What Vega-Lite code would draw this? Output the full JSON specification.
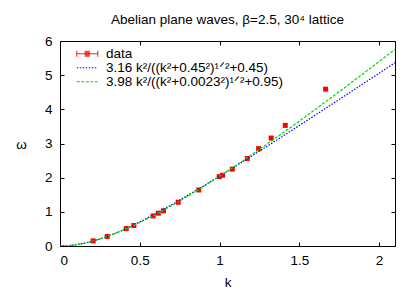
{
  "$schema": "https://vega.github.io/schema/vega-lite/v6.json",
  "width": 335,
  "height": 205,
  "autosize": {"type": "none"},
  "padding": {"left": 60, "top": 41, "right": 20, "bottom": 45},
  "background": "white",
  "config": {
    "font": "Liberation Sans",
    "view": {"stroke": "black", "strokeWidth": 1},
    "axis": {
      "domain": false,
      "grid": false,
      "tickColor": "black",
      "tickSize": -4,
      "tickWidth": 1,
      "labelFont": "Liberation Sans",
      "labelFontSize": 13.5,
      "labelColor": "black",
      "titleFont": "Liberation Sans",
      "titleFontSize": 13.5,
      "titleFontWeight": "normal",
      "titleColor": "black"
    }
  },
  "title": {
    "text": "Abelian plane waves, β=2.5, 30⁴ lattice",
    "font": "Liberation Sans",
    "fontSize": 13.5,
    "fontWeight": "normal",
    "color": "black",
    "anchor": "middle",
    "baseline": "alphabetic",
    "offset": -3
  },
  "datasets": {
    "pts": [
      {"k": 0.208, "w": 0.15, "s": "data"},
      {"k": 0.296, "w": 0.28, "s": "data"},
      {"k": 0.415, "w": 0.51, "s": "data"},
      {"k": 0.463, "w": 0.60, "s": "data"},
      {"k": 0.584, "w": 0.88, "s": "data"},
      {"k": 0.616, "w": 0.96, "s": "data"},
      {"k": 0.649, "w": 1.03, "s": "data"},
      {"k": 0.741, "w": 1.28, "s": "data"},
      {"k": 0.870, "w": 1.64, "s": "data"},
      {"k": 0.998, "w": 2.03, "s": "data"},
      {"k": 1.019, "w": 2.07, "s": "data"},
      {"k": 1.080, "w": 2.25, "s": "data"},
      {"k": 1.174, "w": 2.56, "s": "data"},
      {"k": 1.245, "w": 2.85, "s": "data"},
      {"k": 1.324, "w": 3.16, "s": "data"},
      {"k": 1.412, "w": 3.53, "s": "data"},
      {"k": 1.665, "w": 4.59, "s": "data"}
    ],
    "curves": [
      {"k": 0, "w": 0, "s": "3.16 k²/((k²+0.45²)¹ᐟ²+0.45)"},
      {"k": 0.05, "w": 0.00875, "s": "3.16 k²/((k²+0.45²)¹ᐟ²+0.45)"},
      {"k": 0.1, "w": 0.0347, "s": "3.16 k²/((k²+0.45²)¹ᐟ²+0.45)"},
      {"k": 0.15, "w": 0.0769, "s": "3.16 k²/((k²+0.45²)¹ᐟ²+0.45)"},
      {"k": 0.2, "w": 0.1341, "s": "3.16 k²/((k²+0.45²)¹ᐟ²+0.45)"},
      {"k": 0.25, "w": 0.2047, "s": "3.16 k²/((k²+0.45²)¹ᐟ²+0.45)"},
      {"k": 0.3, "w": 0.2870, "s": "3.16 k²/((k²+0.45²)¹ᐟ²+0.45)"},
      {"k": 0.35, "w": 0.3795, "s": "3.16 k²/((k²+0.45²)¹ᐟ²+0.45)"},
      {"k": 0.4, "w": 0.4806, "s": "3.16 k²/((k²+0.45²)¹ᐟ²+0.45)"},
      {"k": 0.45, "w": 0.5890, "s": "3.16 k²/((k²+0.45²)¹ᐟ²+0.45)"},
      {"k": 0.5, "w": 0.7037, "s": "3.16 k²/((k²+0.45²)¹ᐟ²+0.45)"},
      {"k": 0.6, "w": 0.9480, "s": "3.16 k²/((k²+0.45²)¹ᐟ²+0.45)"},
      {"k": 0.7, "w": 1.2076, "s": "3.16 k²/((k²+0.45²)¹ᐟ²+0.45)"},
      {"k": 0.8, "w": 1.4785, "s": "3.16 k²/((k²+0.45²)¹ᐟ²+0.45)"},
      {"k": 0.9, "w": 1.7577, "s": "3.16 k²/((k²+0.45²)¹ᐟ²+0.45)"},
      {"k": 1.0, "w": 2.0432, "s": "3.16 k²/((k²+0.45²)¹ᐟ²+0.45)"},
      {"k": 1.1, "w": 2.3336, "s": "3.16 k²/((k²+0.45²)¹ᐟ²+0.45)"},
      {"k": 1.2, "w": 2.6279, "s": "3.16 k²/((k²+0.45²)¹ᐟ²+0.45)"},
      {"k": 1.3, "w": 2.9252, "s": "3.16 k²/((k²+0.45²)¹ᐟ²+0.45)"},
      {"k": 1.4, "w": 3.2249, "s": "3.16 k²/((k²+0.45²)¹ᐟ²+0.45)"},
      {"k": 1.5, "w": 3.5267, "s": "3.16 k²/((k²+0.45²)¹ᐟ²+0.45)"},
      {"k": 1.6, "w": 3.8302, "s": "3.16 k²/((k²+0.45²)¹ᐟ²+0.45)"},
      {"k": 1.7, "w": 4.1350, "s": "3.16 k²/((k²+0.45²)¹ᐟ²+0.45)"},
      {"k": 1.8, "w": 4.4411, "s": "3.16 k²/((k²+0.45²)¹ᐟ²+0.45)"},
      {"k": 1.9, "w": 4.7481, "s": "3.16 k²/((k²+0.45²)¹ᐟ²+0.45)"},
      {"k": 2.0, "w": 5.0560, "s": "3.16 k²/((k²+0.45²)¹ᐟ²+0.45)"},
      {"k": 2.1, "w": 5.3647, "s": "3.16 k²/((k²+0.45²)¹ᐟ²+0.45)"},
      {"k": 0, "w": 0, "s": "3.98 k²/((k²+0.0023²)¹ᐟ²+0.95)"},
      {"k": 0.05, "w": 0.0100, "s": "3.98 k²/((k²+0.0023²)¹ᐟ²+0.95)"},
      {"k": 0.1, "w": 0.0379, "s": "3.98 k²/((k²+0.0023²)¹ᐟ²+0.95)"},
      {"k": 0.15, "w": 0.0814, "s": "3.98 k²/((k²+0.0023²)¹ᐟ²+0.95)"},
      {"k": 0.2, "w": 0.1384, "s": "3.98 k²/((k²+0.0023²)¹ᐟ²+0.95)"},
      {"k": 0.25, "w": 0.2073, "s": "3.98 k²/((k²+0.0023²)¹ᐟ²+0.95)"},
      {"k": 0.3, "w": 0.2866, "s": "3.98 k²/((k²+0.0023²)¹ᐟ²+0.95)"},
      {"k": 0.35, "w": 0.3750, "s": "3.98 k²/((k²+0.0023²)¹ᐟ²+0.95)"},
      {"k": 0.4, "w": 0.4717, "s": "3.98 k²/((k²+0.0023²)¹ᐟ²+0.95)"},
      {"k": 0.45, "w": 0.5757, "s": "3.98 k²/((k²+0.0023²)¹ᐟ²+0.95)"},
      {"k": 0.5, "w": 0.6862, "s": "3.98 k²/((k²+0.0023²)¹ᐟ²+0.95)"},
      {"k": 0.6, "w": 0.9244, "s": "3.98 k²/((k²+0.0023²)¹ᐟ²+0.95)"},
      {"k": 0.7, "w": 1.1819, "s": "3.98 k²/((k²+0.0023²)¹ᐟ²+0.95)"},
      {"k": 0.8, "w": 1.4555, "s": "3.98 k²/((k²+0.0023²)¹ᐟ²+0.95)"},
      {"k": 0.9, "w": 1.7426, "s": "3.98 k²/((k²+0.0023²)¹ᐟ²+0.95)"},
      {"k": 1.0, "w": 2.0410, "s": "3.98 k²/((k²+0.0023²)¹ᐟ²+0.95)"},
      {"k": 1.1, "w": 2.3492, "s": "3.98 k²/((k²+0.0023²)¹ᐟ²+0.95)"},
      {"k": 1.2, "w": 2.6657, "s": "3.98 k²/((k²+0.0023²)¹ᐟ²+0.95)"},
      {"k": 1.3, "w": 2.9894, "s": "3.98 k²/((k²+0.0023²)¹ᐟ²+0.95)"},
      {"k": 1.4, "w": 3.3195, "s": "3.98 k²/((k²+0.0023²)¹ᐟ²+0.95)"},
      {"k": 1.5, "w": 3.6551, "s": "3.98 k²/((k²+0.0023²)¹ᐟ²+0.95)"},
      {"k": 1.6, "w": 3.9956, "s": "3.98 k²/((k²+0.0023²)¹ᐟ²+0.95)"},
      {"k": 1.7, "w": 4.3405, "s": "3.98 k²/((k²+0.0023²)¹ᐟ²+0.95)"},
      {"k": 1.8, "w": 4.6892, "s": "3.98 k²/((k²+0.0023²)¹ᐟ²+0.95)"},
      {"k": 1.9, "w": 5.0413, "s": "3.98 k²/((k²+0.0023²)¹ᐟ²+0.95)"},
      {"k": 2.0, "w": 5.3966, "s": "3.98 k²/((k²+0.0023²)¹ᐟ²+0.95)"},
      {"k": 2.1, "w": 5.7547, "s": "3.98 k²/((k²+0.0023²)¹ᐟ²+0.95)"}
    ]
  },
  "layer": [
    {
      "data": {"name": "pts"},
      "mark": {"type": "point", "filled": false, "opacity": 0, "strokeWidth": 1},
      "encoding": {
        "x": {"field": "k", "type": "quantitative", "axis": null},
        "y": {"field": "w", "type": "quantitative", "axis": null},
        "color": {
          "field": "s", "type": "nominal",
          "scale": {
            "domain": ["data", "3.16 k²/((k²+0.45²)¹ᐟ²+0.45)", "3.98 k²/((k²+0.0023²)¹ᐟ²+0.95)"],
            "range": ["#ff0000", "#0000ff", "#00dd00"]
          },
          "legend": {
            "title": null,
            "orient": "none",
            "legendX": 20.5,
            "legendY": 6,
            "padding": 0,
            "symbolSize": 121,
            "symbolStrokeWidth": 1,
            "symbolOpacity": 1,
            "labelOffset": 12,
            "labelFont": "Liberation Sans",
            "labelFontSize": 13.5,
            "labelColor": "black",
            "labelLimit": 400,
            "rowPadding": -5
          }
        },
        "shape": {
          "field": "s", "type": "nominal",
          "scale": {
            "domain": ["data", "3.16 k²/((k²+0.45²)¹ᐟ²+0.45)", "3.98 k²/((k²+0.0023²)¹ᐟ²+0.95)"],
            "range": [
              "M-1.909,-0.55V0.55M-1.909,0H1.909M1.909,-0.55V0.55M-0.47,-0.45H0.47M-0.47,-0.27H0.47M-0.47,-0.09H0.47M-0.47,0.09H0.47M-0.47,0.27H0.47M-0.47,0.45H0.47",
              "M-1.909,0H1.909",
              "M-1.909,0H1.909"
            ]
          },
          "legend": {
            "title": null,
            "orient": "none",
            "legendX": 20.5,
            "legendY": 6,
            "padding": 0,
            "symbolSize": 121,
            "symbolStrokeWidth": 1,
            "symbolOpacity": 1,
            "labelOffset": 12,
            "labelFont": "Liberation Sans",
            "labelFontSize": 13.5,
            "labelColor": "black",
            "labelLimit": 400,
            "rowPadding": -5
          }
        },
        "strokeDash": {
          "field": "s", "type": "nominal",
          "scale": {
            "domain": ["data", "3.16 k²/((k²+0.45²)¹ᐟ²+0.45)", "3.98 k²/((k²+0.0023²)¹ᐟ²+0.95)"],
            "range": [[1, 0], [1.5, 1.5], [3, 1.5]]
          },
          "legend": {
            "title": null,
            "orient": "none",
            "legendX": 20.5,
            "legendY": 6,
            "padding": 0,
            "symbolSize": 121,
            "symbolStrokeWidth": 1,
            "symbolOpacity": 1,
            "labelOffset": 12,
            "labelFont": "Liberation Sans",
            "labelFontSize": 13.5,
            "labelColor": "black",
            "labelLimit": 400,
            "rowPadding": -5
          }
        }
      }
    },
    {
      "data": {"name": "pts"},
      "mark": {"type": "point", "shape": "square", "filled": true, "size": 25, "opacity": 1},
      "encoding": {
        "x": {
          "field": "k", "type": "quantitative",
          "scale": {"domain": [0, 2.1], "nice": false, "zero": false},
          "axis": {"orient": "bottom", "values": [0, 0.5, 1, 1.5, 2], "format": "~g", "title": "k",
                   "labelBaseline": "alphabetic", "labelPadding": 22,
                   "titleBaseline": "alphabetic", "titleY": 40}
        },
        "y": {
          "field": "w", "type": "quantitative",
          "scale": {"domain": [0, 6], "nice": false},
          "axis": {"orient": "left", "values": [0, 1, 2, 3, 4, 5, 6], "format": "d", "title": "ω",
                   "labelPadding": 12, "titleAngle": 0, "titleAlign": "center",
                   "titleBaseline": "alphabetic", "titleX": -39, "titleY": 107}
        },
        "color": {"field": "s", "type": "nominal"}
      }
    },
    {
      "data": {"name": "curves"},
      "mark": {"type": "line", "strokeWidth": 1.2, "clip": true},
      "encoding": {
        "x": {
          "field": "k", "type": "quantitative",
          "axis": {"orient": "top", "values": [0, 0.5, 1, 1.5, 2], "labels": false, "title": null}
        },
        "y": {
          "field": "w", "type": "quantitative",
          "axis": {"orient": "right", "values": [0, 1, 2, 3, 4, 5, 6], "labels": false, "title": null}
        },
        "color": {"field": "s", "type": "nominal"},
        "strokeDash": {"field": "s", "type": "nominal"}
      }
    }
  ]
}
